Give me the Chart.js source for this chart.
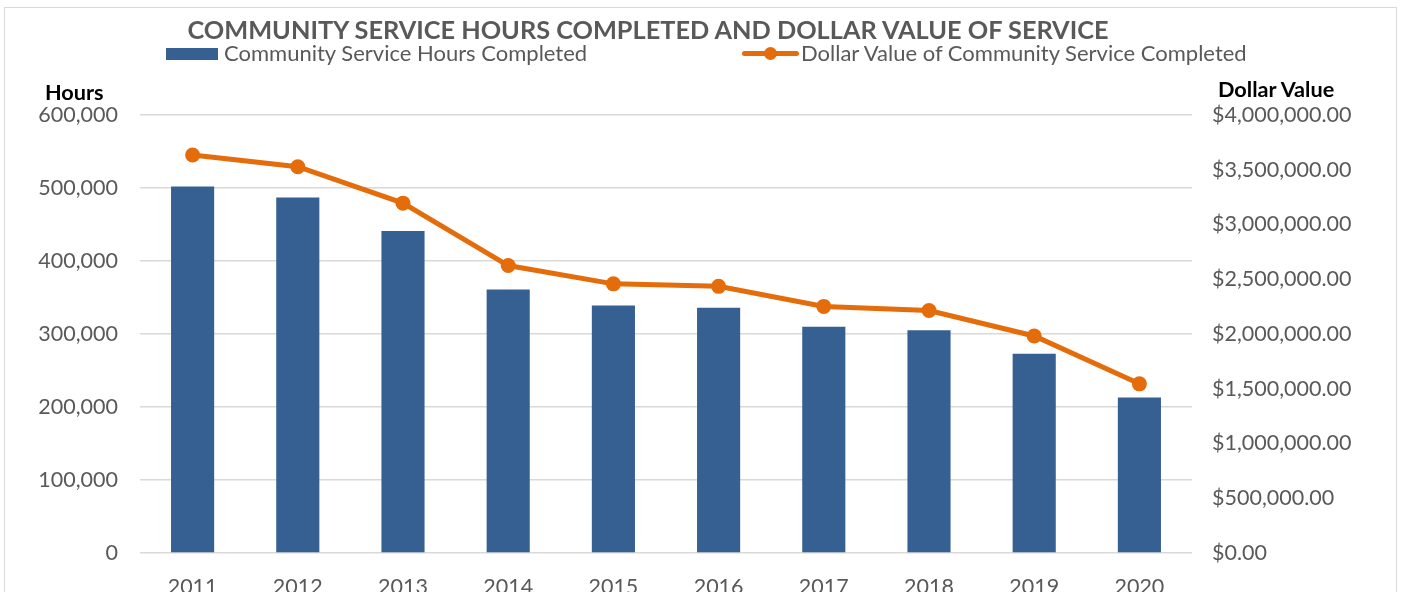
<!DOCTYPE html>
<html lang="en">
<head>
    <meta charset="UTF-8">
    <title>Community Service Hours</title>
    <style>
        html, body { margin: 0; padding: 0; overflow: hidden; background: #fff; }
        body { width: 1401px; height: 592px; position: relative; font-family: Lato, sans-serif; }
        .frame { position: absolute; left: 4px; top: 7px; width: 1391px; height: 640px; border: 1px solid #d9d9d9; }
        .wrap { position: absolute; left: 0; top: 0; width: 1401px; height: 620px; }
        .title { position: absolute; left: 0; top: 14px; width: 1296px; text-align: center;
                 font-weight: bold; font-size: 25.3px; line-height: 30px; color: #595959; white-space: nowrap; }
        .leg { position: absolute; font-size: 22px; line-height: 26px; color: #595959; white-space: nowrap; }
        .axt { position: absolute; font-size: 21.7px; line-height: 26px; font-weight: bold; color: #000; white-space: nowrap; }
        .box { position: absolute; left: 166px; top: 48px; width: 52px; height: 12px; background: #376092; }
        .ln { position: absolute; left: 742px; top: 51px; width: 57px; height: 5px; border-radius: 3px; background: #e46c0a; }
        .dot { position: absolute; left: 764px; top: 47px; width: 13px; height: 13px; border-radius: 50%; background: #e46c0a; }
    </style>
</head>
<body>
<div class="frame"></div>

<!-- chart area -->
<div class="wrap">
    <canvas id="myChart"></canvas>
</div>

<div class="title">COMMUNITY SERVICE HOURS COMPLETED AND DOLLAR VALUE OF SERVICE</div>
<div class="box"></div>
<div class="leg" style="left:224px; top:40px;">Community Service Hours Completed</div>
<div class="ln"></div>
<div class="dot"></div>
<div class="leg" style="left:801px; top:40px;">Dollar Value of Community Service Completed</div>
<div class="axt" style="left:45px; top:79px;">Hours</div>
<div class="axt" style="left:1218px; top:76px;">Dollar Value</div>

<script src="https://cdn.jsdelivr.net/npm/chart.js"></script>

<script>
    // data
    const years = ['2011', '2012', '2013', '2014', '2015', '2016', '2017', '2018', '2019', '2020'];
    const hours = [502000, 487000, 441000, 361000, 339000, 336000, 310000, 305000, 273000, 213000];
    const dollars = [3635000, 3528000, 3195000, 2625000, 2458000, 2435000, 2252000, 2215000, 1982000, 1545000];
    const hourTicks = [0, 100000, 200000, 300000, 400000, 500000, 600000];
    const dollarTicks = [0, 500000, 1000000, 1500000, 2000000, 2500000, 3000000, 3500000, 4000000];

    const tickFont = { family: 'Lato, sans-serif', size: 21.5 };
    const grey = '#595959';

    const ctx = document.getElementById('myChart');

    new Chart(ctx, {
        type: 'bar',
        data: {
            labels: years,
            datasets: [
                {
                    type: 'line',
                    label: 'Dollar Value of Community Service Completed',
                    data: dollars,
                    yAxisID: 'y1',
                    borderColor: '#e46c0a',
                    backgroundColor: '#e46c0a',
                    borderWidth: 5,
                    pointRadius: 7.5,
                    pointHoverRadius: 7.5,
                    pointBorderWidth: 0,
                    tension: 0,
                    order: 1
                },
                {
                    label: 'Community Service Hours Completed',
                    data: hours,
                    yAxisID: 'y',
                    backgroundColor: '#376092',
                    borderWidth: 0,
                    barPercentage: 0.41,
                    categoryPercentage: 1,
                    order: 2
                }
            ]
        },
        options: {
            responsive: true,
            maintainAspectRatio: false,
            animation: false,
            layout: {
                padding: { top: 115, left: 0, right: 0, bottom: 0 }
            },
            scales: {
                x: {
                    grid: { display: false },
                    border: { display: false },
                    ticks: { color: grey, font: tickFont, padding: 13 },
                    afterFit: (scale) => { scale.height = 620 - 553; }
                },
                y: {
                    position: 'left',
                    min: 0,
                    max: 600000,
                    afterBuildTicks: (scale) => { scale.ticks = hourTicks.map(v => ({ value: v })); },
                    grid: { color: '#d9d9d9', lineWidth: 1.5, drawTicks: false },
                    border: { display: false },
                    ticks: {
                        color: grey,
                        font: tickFont,
                        padding: 22,
                        callback: (v) => v.toLocaleString('en-US')
                    },
                    afterFit: (scale) => { scale.width = 140; }
                },
                y1: {
                    position: 'right',
                    min: 0,
                    max: 4000000,
                    afterBuildTicks: (scale) => { scale.ticks = dollarTicks.map(v => ({ value: v })); },
                    grid: { drawOnChartArea: false, drawTicks: false },
                    border: { display: false },
                    ticks: {
                        color: grey,
                        font: tickFont,
                        padding: 20,
                        callback: (v) => '$' + v.toLocaleString('en-US', { minimumFractionDigits: 2, maximumFractionDigits: 2 })
                    },
                    afterFit: (scale) => { scale.width = 1401 - 1192; }
                }
            },
            plugins: {
                legend: { display: false },
                tooltip: { enabled: false },
                title: { display: false }
            }
        }
    });
</script>
</body>
</html>
